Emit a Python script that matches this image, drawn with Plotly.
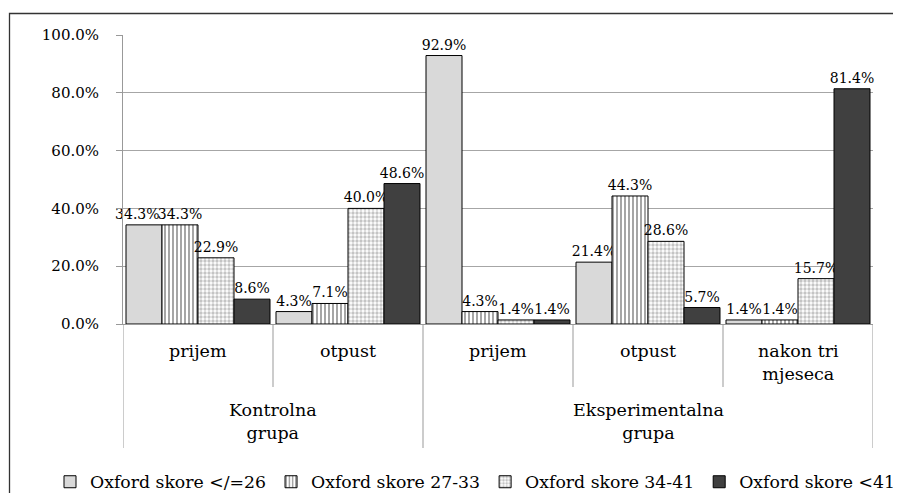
import plotly.graph_objects as go

# ---- data ----
groups = ["Kontrolna<br>grupa", "Eksperimentalna<br>grupa"]
phases = ["prijem", "otpust", "prijem", "otpust", "nakon tri<br>mjeseca"]
categories = ["K-prijem", "K-otpust", "E-prijem", "E-otpust", "E-nakon"]
series_names = ["Oxford skore </=26", "Oxford skore 27-33", "Oxford skore 34-41", "Oxford skore <41"]
s1 = [0.343, 0.043, 0.929, 0.214, 0.014]
s2 = [0.343, 0.071, 0.043, 0.443, 0.014]
s3 = [0.229, 0.400, 0.014, 0.286, 0.157]
s4 = [0.086, 0.486, 0.014, 0.057, 0.814]
y_ticks = [0, 0.2, 0.4, 0.6, 0.8, 1.0]

FONT = "DejaVu Serif"
styles = [
    dict(color="#d9d9d9"),
    dict(color="white", pattern=dict(shape="|", size=4, solidity=0.35, fgcolor="black", bgcolor="white")),
    dict(color="white", pattern=dict(shape=".", size=4, solidity=0.55, fgcolor="#8a8a8a", bgcolor="white")),
    dict(color="#404040"),
]

fig = go.Figure()
for k, (name, vals, st) in enumerate(zip(series_names, [s1, s2, s3, s4], styles)):
    labels = [f"{v*100:.1f}%" for v in vals]
    if k == 0:
        # nudge the first label left (as in the original) so it does not collide with its neighbour
        labels[0] = labels[0] + "\u00a0\u00a0\u00a0"
    fig.add_trace(go.Bar(
        x=categories, y=vals, name=name,
        marker=dict(line=dict(color="black", width=1), **st),
        text=labels,
        textposition="outside", constraintext="none", cliponaxis=False,
        textfont=dict(family=FONT, size=14, color="black"),
        hoverinfo="skip",
    ))

# page body has an 8px margin: figure origin sits at (8, 8) of the screenshot
OFF = 8
W, H = 901 - OFF, 493 - OFF
L, T = 123 - OFF, 35 - OFF
R = W - (873 - OFF)
B = H - (324 - OFF)
pw, ph = W - L - R, H - T - B

def py(p):
    return (H - B - (p - OFF)) / ph

def px(p):
    return ((p - OFF) - L) / pw

annotations = []
for i, ph_lbl in enumerate(phases):
    annotations.append(dict(x=categories[i], y=py(339), xref="x", yref="paper", text=ph_lbl,
                            showarrow=False, yanchor="top", xanchor="center",
                            font=dict(family=FONT, size=17.5, color="black")))
# outer group labels (centered over their spans of categories)
annotations.append(dict(x=0.5, y=py(398), xref="x", yref="paper", text=groups[0],
                        showarrow=False, yanchor="top", font=dict(family=FONT, size=17.5, color="black")))
annotations.append(dict(x=3, y=py(398), xref="x", yref="paper", text=groups[1],
                        showarrow=False, yanchor="top", font=dict(family=FONT, size=17.5, color="black")))

shapes = []
for b, long in [(-0.5, True), (0.5, False), (1.5, True), (2.5, False), (3.5, False), (4.5, True)]:
    shapes.append(dict(type="line", xref="x", yref="paper", x0=b, x1=b, y0=0,
                       y1=py(448 if long else 387), line=dict(color="#999999", width=1)))
shapes.append(dict(type="rect", xref="paper", yref="paper", x0=px(9.5), x1=px(940),
                   y0=py(13.5), y1=py(540), line=dict(color="#333333", width=1.3)))

fig.update_layout(
    width=W, height=H, margin=dict(l=L, r=R, t=T, b=B, autoexpand=False),
    barmode="group", bargap=0.04, bargroupgap=0,
    plot_bgcolor="white", paper_bgcolor="white",
    font=dict(family=FONT, color="black"),
    xaxis=dict(type="category", range=[-0.5, 4.5], showticklabels=False, ticks="",
               showgrid=False, showline=True, linecolor="#999999", linewidth=1, zeroline=False),
    yaxis=dict(range=[0, 1], tickvals=y_ticks, tickformat=".1%", showgrid=True,
               gridcolor="#a6a6a6", gridwidth=1, showline=True, linecolor="#999999", linewidth=1,
               ticks="outside", ticklen=6, tickcolor="#999999", zeroline=False,
               tickfont=dict(family=FONT, size=15, color="black"), ticklabelstandoff=14),
    legend=dict(orientation="h", x=px(50), xanchor="left", y=py(482), yanchor="middle",
                font=dict(family=FONT, size=17.3, color="black"), traceorder="normal"),
    annotations=annotations, shapes=shapes,
)
fig.write_html("out.html")
